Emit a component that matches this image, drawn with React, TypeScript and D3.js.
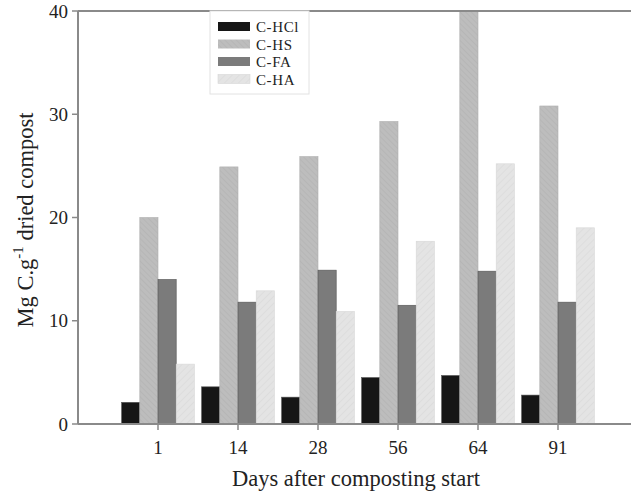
import React from "react";
import * as d3 from "d3";

const days = ["1", "14", "28", "56", "64", "91"];
const series = ["C-HCl", "C-HS", "C-FA", "C-HA"];
const cHCl = [2.1, 3.6, 2.6, 4.5, 4.7, 2.8];
const cHS = [20, 24.9, 25.9, 29.3, 40, 30.8];
const cFA = [14, 11.8, 14.9, 11.5, 14.8, 11.8];
const cHA = [5.8, 12.9, 10.9, 17.7, 25.2, 19.0];
const yTicks = [0, 10, 20, 30, 40];

const values = [cHCl, cHS, cFA, cHA];
const fills = ["#161616", "url(#hatchHS)", "#7b7b7b", "url(#hatchHA)"];

const width = 631;
const height = 494;
const left = 78;
const top = 11;
const bottom = 424;
const font = "'Liberation Serif', 'Times New Roman', serif";

export default function App() {
  const y = d3.scaleLinear().domain([0, 40]).range([bottom, top]);
  const x0 = d3
    .scaleBand<string>()
    .domain(days)
    .range([118, 598])
    .paddingInner(0.09)
    .paddingOuter(0.045);
  const x1 = d3
    .scaleBand<string>()
    .domain(series)
    .range([0, x0.bandwidth()]);

  return (
    <svg
      width={width}
      height={height}
      style={{ position: "absolute", left: 0, top: 0, background: "#fff" }}
      fontFamily={font}
    >
      <defs>
        <pattern id="hatchHS" width="4" height="4" patternUnits="userSpaceOnUse" patternTransform="rotate(-45)">
          <rect width="4" height="4" fill="#bdbdbd" />
          <line x1="0" y1="0" x2="0" y2="4" stroke="#b0b0b0" strokeWidth="1" />
        </pattern>
        <pattern id="hatchHA" width="5" height="5" patternUnits="userSpaceOnUse" patternTransform="rotate(45)">
          <rect width="5" height="5" fill="#e4e4e4" />
          <line x1="0" y1="0" x2="0" y2="5" stroke="#d6d6d6" strokeWidth="1" />
        </pattern>
      </defs>

      {/* bars */}
      {days.map((d, i) => (
        <g key={d} transform={`translate(${x0(d)},0)`}>
          {series.map((s, j) => (
            <rect
              key={s}
              x={x1(s)}
              y={y(values[j][i])}
              width={x1.bandwidth()}
              height={bottom - y(values[j][i])}
              fill={fills[j]}
              stroke={j === 3 ? "#d8d8d8" : j === 1 ? "#b0b0b0" : "#555"}
              strokeWidth={0.6}
            />
          ))}
        </g>
      ))}

      {/* axes */}
      <line x1={left} x2={width} y1={top} y2={top} stroke="#8a8a8a" strokeWidth={2} />
      <line x1={left} x2={width} y1={bottom} y2={bottom} stroke="#8a8a8a" strokeWidth={2} />
      <line x1={left} x2={left} y1={top} y2={bottom} stroke="#8a8a8a" strokeWidth={2} />

      {yTicks.map((t) => (
        <g key={t}>
          <line x1={left - 6} x2={left} y1={y(t)} y2={y(t)} stroke="#8a8a8a" strokeWidth={1.5} />
          <text x={left - 10} y={y(t)} dy="0.35em" textAnchor="end" fontSize={19} fill="#222">
            {t}
          </text>
        </g>
      ))}

      {days.map((d) => {
        const cx = (x0(d) as number) + x0.bandwidth() / 2;
        return (
          <g key={d}>
            <line x1={cx} x2={cx} y1={bottom} y2={bottom + 6} stroke="#8a8a8a" strokeWidth={1.5} />
            <text x={cx} y={454} textAnchor="middle" fontSize={19} fill="#222">
              {d}
            </text>
          </g>
        );
      })}

      <text x={356} y={486} textAnchor="middle" fontSize={22.5} fill="#222">
        Days after composting start
      </text>
      <text transform="translate(33,220) rotate(-90)" textAnchor="middle" fontSize={22.5} fill="#222">
        Mg C.g
        <tspan fontSize={15} dy={-10}>-1</tspan>
        <tspan dy={10}> dried compost</tspan>
      </text>

      {/* legend */}
      <rect x={210} y={top} width={99} height={83} fill="#fff" stroke="#e2e2e2" strokeWidth={1} />
      {series.map((s, j) => (
        <g key={s} transform={`translate(218,${22 + j * 17.5})`}>
          <rect width={32} height={9} fill={fills[j]} stroke={j === 3 ? "#d8d8d8" : "none"} strokeWidth={0.6} />
          <text x={38} y={5} dy="0.35em" fontSize={15} letterSpacing={0.6} fill="#222">
            {s}
          </text>
        </g>
      ))}
    </svg>
  );
}
